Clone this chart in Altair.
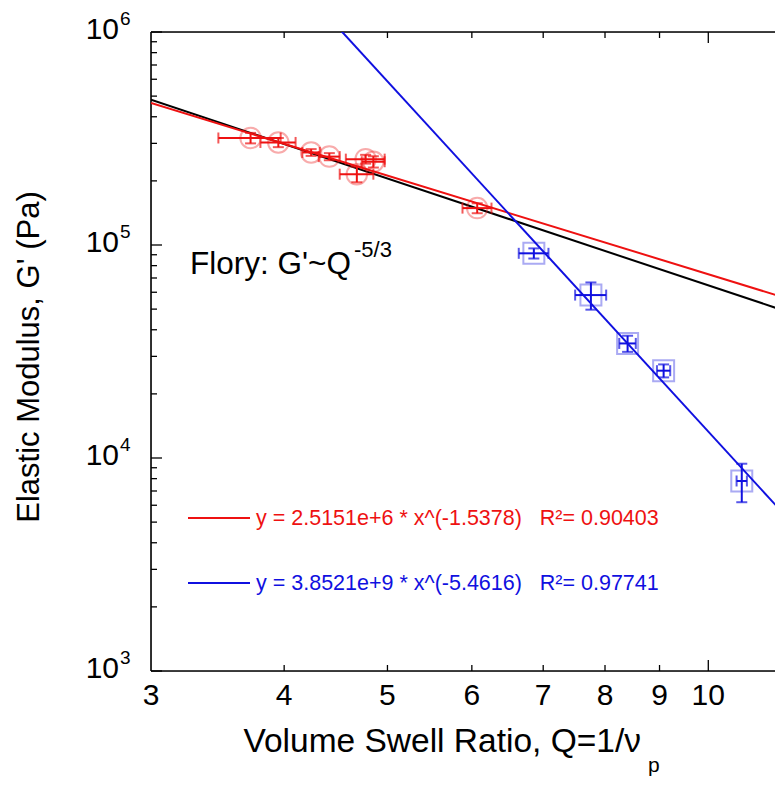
import altair as alt
import pandas as pd

# ---------------- data ----------------
red_q = [3.72, 3.95, 4.24, 4.41, 4.77, 4.85, 4.68, 6.07]
red_g = [3.18e5, 3.03e5, 2.72e5, 2.60e5, 2.53e5, 2.46e5, 2.15e5, 1.49e5]
red_dq = [0.25, 0.15, 0.08, 0.10, 0.20, 0.12, 0.17, 0.19]
red_dg = [1.8e4, 1.5e4, 1.0e4, 1.0e4, 1.2e4, 1.5e4, 1.8e4, 0.8e4]

blue_q = [6.86, 7.76, 8.40, 9.08, 10.75]
blue_g = [9.14e4, 5.82e4, 3.45e4, 2.57e4, 7.8e3]
blue_dq = [0.22, 0.26, 0.15, 0.13, 0.12]
blue_dg = [5.0e3, 8.5e3, 3.0e3, 1.8e3, 1.6e3]

# power-law fits  G = A * Q^b
fit_names = ["red", "blue", "flory"]
fit_A = [2.5151e6, 3.8521e9, 3.0e6]
fit_b = [-1.5378, -5.4616, -5.0 / 3.0]

x_ticks = [3, 4, 5, 6, 7, 8, 9, 10]
x_tick_labels = ["3", "4", "5", "6", "7", "8", "9", "10"]
x_minor = [4, 5, 6, 7, 8, 9]
x_major = [10]
y_major = [1e3, 1e4, 1e5, 1e6]
y_label_base = ["10", "10", "10", "10"]
y_label_exp = ["3", "4", "5", "6"]
y_minor = [m * 10 ** e for e in (3, 4, 5) for m in range(2, 10)]

x_domain = [3, 11.55]
y_domain = [1e3, 1e6]

x_title = ["Volume Swell Ratio, Q=1/\u03bd"]
x_title_sub = ["p"]
y_title = ["Elastic Modulus, G' (Pa)"]
flory_text = ["Flory: G'~Q"]
flory_sup = ["-5/3"]
NB = "\u00a0"
red_label = ["y = 2.5151e+6 * x^(-1.5378)" + NB * 3 + "R\u00b2= 0.90403"]
blue_label = ["y = 3.8521e+9 * x^(-5.4616)" + NB * 3 + "R\u00b2= 0.97741"]

RED = "#ee1111"
BLUE = "#1010e0"
FONT = "Liberation Sans"
W, H = 624, 639

# ---------------- tables ----------------
def pts(q, g, dq, dg):
    return pd.DataFrame({
        "q": q, "g": g,
        "qlo": [a - d for a, d in zip(q, dq)], "qhi": [a + d for a, d in zip(q, dq)],
        "glo": [a - d for a, d in zip(g, dg)], "ghi": [a + d for a, d in zip(g, dg)],
    })

red_df = pts(red_q, red_g, red_dq, red_dg)
blue_df = pts(blue_q, blue_g, blue_dq, blue_dg)

def hcaps(df):
    return pd.DataFrame({"q": list(df.qlo) + list(df.qhi), "g": list(df.g) * 2})

def vcaps(df):
    return pd.DataFrame({"q": list(df.q) * 2, "g": list(df.glo) + list(df.ghi)})

fit_rows = []
for n, A, b in zip(fit_names, fit_A, fit_b):
    for q in (x_domain[0], 12.0):
        fit_rows.append({"fit": n, "q": q, "g": A * q ** b})
fit_df = pd.DataFrame(fit_rows)

xs = alt.Scale(type="log", domain=x_domain, nice=False)
ys = alt.Scale(type="log", domain=y_domain, nice=False)

X = lambda f: alt.X(f, type="quantitative", scale=xs, axis=None)
Y = lambda f: alt.Y(f, type="quantitative", scale=ys, axis=None)

one = pd.DataFrame({"a": [0]})

# ---------------- frame lines ----------------
def hline(y):
    return alt.Chart(one).mark_rule(color="black", strokeWidth=1.6).encode(
        x=alt.value(0), x2=alt.value(W), y=alt.value(y))

frame = [
    hline(0), hline(H),
    alt.Chart(one).mark_rule(color="black", strokeWidth=1.6).encode(
        x=alt.value(0), y=alt.value(0), y2=alt.value(H)),
]

# tick marks pointing inward
def ytick(vals, length):
    return alt.Chart(pd.DataFrame({"g": vals})).mark_rule(color="black", strokeWidth=1.3).encode(
        y=Y("g"), x=alt.value(0), x2=alt.value(length))

def xtick(vals, length, top=False):
    y0 = 0 if top else H
    y1 = length if top else H - length
    return alt.Chart(pd.DataFrame({"q": vals})).mark_rule(color="black", strokeWidth=1.3).encode(
        x=X("q"), y=alt.value(y0), y2=alt.value(y1))

ticks = [ytick(y_minor, 6), ytick(y_major, 11),
         xtick(x_minor, 6), xtick(x_major, 11),
         xtick(x_minor, 6, top=True), xtick(x_major, 11, top=True)]

# tick labels
xlab = alt.Chart(pd.DataFrame({"q": x_ticks, "t": x_tick_labels})).mark_text(
    fontSize=30, font=FONT, color="black", baseline="middle", align="center").encode(
    x=X("q"), y=alt.value(H + 25), text="t:N")
ylab_df = pd.DataFrame({"g": y_major, "b": y_label_base, "e": y_label_exp})
ylab = alt.Chart(ylab_df).mark_text(fontSize=30, font=FONT, color="black",
                                    baseline="middle", align="right", dy=-2).encode(
    y=Y("g"), x=alt.value(-32), text="b:N")
yexp = alt.Chart(ylab_df).mark_text(fontSize=19, font=FONT, color="black",
                                    baseline="middle", align="left", dy=-13).encode(
    y=Y("g"), x=alt.value(-31), text="e:N")

# ---------------- fit lines ----------------
fit_colors = {"red": RED, "blue": BLUE, "flory": "black"}
fit_layers = [
    alt.Chart(fit_df[fit_df.fit == n]).mark_line(color=fit_colors[n], strokeWidth=2, clip=True).encode(
        x=X("q"), y=Y("g"))
    for n in ["flory", "red", "blue"]
]

# ---------------- data points with error bars ----------------
def series(df, color, shape, size):
    hb = alt.Chart(df).mark_rule(color=color, strokeWidth=2, clip=True).encode(
        x=X("qlo"), x2="qhi", y=Y("g"))
    vb = alt.Chart(df).mark_rule(color=color, strokeWidth=2, clip=True).encode(
        x=X("q"), y=Y("glo"), y2="ghi")
    hc = alt.Chart(hcaps(df)).mark_tick(color=color, orient="vertical", size=11, thickness=2).encode(
        x=X("q"), y=Y("g"))
    vc = alt.Chart(vcaps(df)).mark_tick(color=color, orient="horizontal", size=11, thickness=2).encode(
        x=X("q"), y=Y("g"))
    mk = alt.Chart(df).mark_point(shape=shape, size=size, filled=False, color=color,
                                  strokeOpacity=0.5, strokeWidth=2).encode(x=X("q"), y=Y("g"))
    return [hb, vb, hc, vc, mk]

red_layers = series(red_df, RED, "circle", 420)
blue_layers = series(blue_df, BLUE, "square", 440)

# ---------------- text ----------------
def txt(values, x, y, size, color="black", align="left", angle=0, baseline="middle"):
    return alt.Chart(pd.DataFrame({"t": values})).mark_text(
        align=align, baseline=baseline, fontSize=size, color=color, font=FONT, angle=angle).encode(
        text="t:N", x=alt.value(x), y=alt.value(y))

def seg(color, y):
    return alt.Chart(one).mark_rule(color=color, strokeWidth=2).encode(
        x=alt.value(37), x2=alt.value(99), y=alt.value(y))

texts = [
    txt(x_title, 490, 710, 33.5, align="right"),
    txt(x_title_sub, 497, 740, 21, baseline="alphabetic"),
    txt(y_title, -121, 325, 31, align="center", angle=270),
    txt(flory_text, 39, 233, 31.5),
    txt(flory_sup, 203, 218, 22),
    seg(RED, 486), txt(red_label, 105, 487, 21.5, color=RED),
    seg(BLUE, 551), txt(blue_label, 105, 552, 21.5, color=BLUE),
]

chart = alt.layer(*frame, *ticks, xlab, ylab, yexp, *fit_layers, *red_layers, *blue_layers,
                  *texts).properties(
    width=W, height=H, autosize="none",
    padding={"left": 143, "top": 24, "right": 0, "bottom": 109},
).configure_view(stroke=None).configure(font=FONT)

chart.save("out.html", embed_options={"renderer": "svg", "actions": False})
